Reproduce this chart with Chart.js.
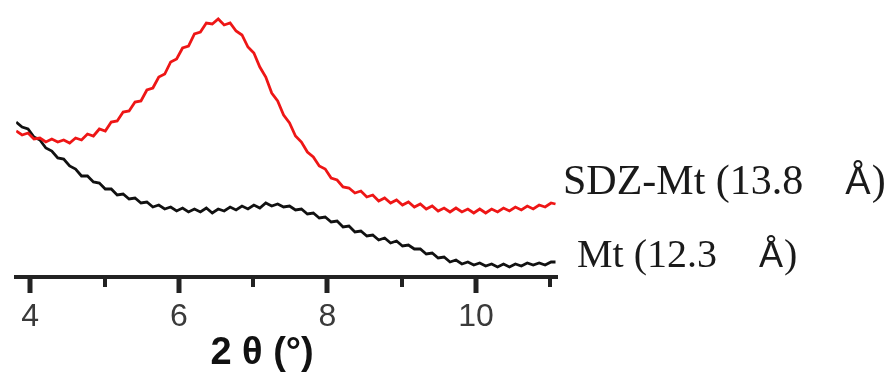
<!DOCTYPE html>
<html>
<head>
<meta charset="utf-8">
<script src="https://cdn.jsdelivr.net/npm/chart.js@4.4.1/dist/chart.umd.min.js"></script>
<style>
    body { margin: 0; background: #fff; }
    #xrd { display: block; }
</style>
</head>
<body>
<canvas id="xrd" width="889" height="372"></canvas>
<script>
// 2theta (deg), shared by both patterns
const twoTheta = [3.81, 3.89, 3.97, 4.05, 4.13, 4.21, 4.29, 4.37, 4.45, 4.53,
    4.61, 4.69, 4.77, 4.85, 4.93, 5.01, 5.09, 5.17, 5.25, 5.33,
    5.41, 5.49, 5.57, 5.65, 5.73, 5.81, 5.89, 5.97, 6.05, 6.13,
    6.21, 6.29, 6.37, 6.45, 6.53, 6.61, 6.69, 6.77, 6.85, 6.93,
    7.01, 7.09, 7.17, 7.25, 7.33, 7.41, 7.49, 7.57, 7.65, 7.73,
    7.81, 7.89, 7.97, 8.05, 8.13, 8.21, 8.29, 8.37, 8.45, 8.53,
    8.61, 8.69, 8.77, 8.85, 8.93, 9.01, 9.09, 9.17, 9.25, 9.33,
    9.41, 9.49, 9.57, 9.65, 9.73, 9.81, 9.89, 9.97, 10.05, 10.13,
    10.21, 10.29, 10.37, 10.45, 10.53, 10.61, 10.69, 10.77, 10.85, 10.93,
    11.01, 11.07];

// intensity (arb. units)
const sdzMt = [146, 142, 144, 138, 139, 135, 138, 135, 137, 134,
    139, 137, 143, 141, 148, 146, 155, 156, 165, 166,
    175, 176, 187, 189, 200, 203, 215, 218, 229, 231,
    243, 245, 254, 253, 258, 252, 254, 246, 242, 230,
    224, 210, 200, 184, 176, 162, 154, 141, 135, 125,
    120, 111, 108, 99, 97, 90, 89, 84, 86, 80,
    82, 76, 79, 74, 77, 72, 75, 70, 73, 68,
    71, 66, 69, 65, 69, 65, 68, 64, 68, 64,
    68, 65, 69, 66, 70, 67, 71, 68, 72, 70,
    74, 73];

const mt = [155, 150, 148, 140, 137, 129, 126, 119, 118, 111,
    108, 101, 101, 95, 94, 88, 88, 82, 83, 78,
    79, 74, 75, 70, 72, 68, 70, 66, 69, 65,
    68, 65, 69, 64, 68, 66, 70, 67, 71, 68,
    72, 69, 74, 71, 73, 70, 71, 67, 68, 63,
    64, 59, 60, 55, 56, 50, 51, 45, 46, 41,
    42, 37, 39, 34, 36, 31, 32, 28, 28, 23,
    24, 19, 20, 15, 17, 13, 15, 12, 14, 11,
    13, 10, 13, 10, 13, 11, 14, 12, 14, 12,
    15, 15];

const xTicks = [4, 5, 6, 7, 8, 9, 10, 11];
const xTitle = '2 θ (°)';
const seriesLabels = [
    { name: 'SDZ-Mt (13.8', unit: 'Å', size: 42, x: 563, y: 194 },
    { name: 'Mt (12.3', unit: 'Å', size: 40, x: 577, y: 267 }
];

function toPoints(xs, ys) {
    return xs.map((x, i) => ({ x: x, y: ys[i] }));
}

// tick marks below the axis line, long for labelled ones
const tickMarks = {
    id: 'tickMarks',
    afterDraw(chart) {
        const ctx = chart.ctx;
        const xs = chart.scales.x;
        const y0 = chart.chartArea.bottom;
        ctx.save();
        ctx.strokeStyle = '#222';
        xTicks.forEach(v => {
            const px = Math.round(xs.getPixelForValue(v));
            const major = v % 2 === 0;
            ctx.lineWidth = major ? 5 : 4;
            ctx.beginPath();
            ctx.moveTo(px, y0);
            ctx.lineTo(px, y0 + (major ? 16 : 10));
            ctx.stroke();
        });
        ctx.restore();
    }
};

const labels = {
    id: 'labels',
    afterDraw(chart) {
        const ctx = chart.ctx;
        const xs = chart.scales.x;
        ctx.save();
        ctx.fillStyle = '#111';
        ctx.textBaseline = 'alphabetic';
        ctx.textAlign = 'center';
        ctx.font = 'bold 38px "Liberation Sans", Arial, sans-serif';
        ctx.fillText(xTitle, xs.getPixelForValue(7.12), 364);

        ctx.textAlign = 'left';
        ctx.fillStyle = '#1a1a1a';
        seriesLabels.forEach(l => {
            const serif = l.size + 'px "Liberation Serif", "Times New Roman", serif';
            ctx.font = serif;
            ctx.fillText(l.name, l.x, l.y);
            let x = l.x + ctx.measureText(l.name).width + 42;
            ctx.font = (l.size - 4) + 'px "Liberation Sans", Arial, sans-serif';
            ctx.fillText(l.unit, x, l.y);
            x += ctx.measureText(l.unit).width + 1;
            ctx.font = serif;
            ctx.fillText(')', x, l.y);
        });
        ctx.restore();
    }
};

const ctx = document.getElementById('xrd').getContext('2d');
const xrdChart = new Chart(ctx, {
    type: 'line',
    data: {
        datasets: [{
            label: 'SDZ-Mt',
            data: toPoints(twoTheta, sdzMt),
            borderColor: 'rgb(238, 22, 22)',
            borderWidth: 2.8,
            pointRadius: 0,
            tension: 0
        }, {
            label: 'Mt',
            data: toPoints(twoTheta, mt),
            borderColor: '#111',
            borderWidth: 2.8,
            pointRadius: 0,
            tension: 0
        }]
    },
    options: {
        responsive: false,
        animation: false,
        devicePixelRatio: 1,
        layout: { padding: { left: 14, right: 332, top: 0, bottom: 0 } },
        plugins: {
            legend: { display: false },
            tooltip: { enabled: false }
        },
        scales: {
            x: {
                type: 'linear',
                min: 3.81,
                max: 11.09,
                afterBuildTicks: scale => {
                    scale.ticks = xTicks.map(v => ({ value: v }));
                },
                afterFit: scale => {
                    scale.height = 95;
                },
                grid: { display: false, drawTicks: false },
                border: { display: true, color: '#222', width: 4 },
                ticks: {
                    autoSkip: false,
                    maxRotation: 0,
                    padding: 21,
                    color: '#3a3a3a',
                    font: { family: '"Liberation Sans", Arial, sans-serif', size: 32 },
                    callback: v => (v % 2 === 0 ? String(v) : '')
                }
            },
            y: {
                display: false,
                min: 0,
                max: 277
            }
        }
    },
    plugins: [tickMarks, labels]
});
</script>
</body>
</html>
